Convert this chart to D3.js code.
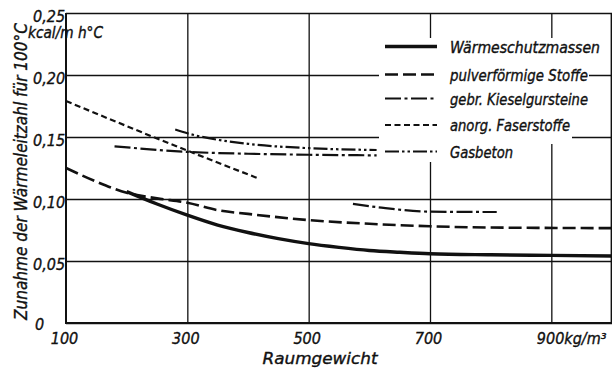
<!DOCTYPE html>
<html><head><meta charset="utf-8">
<script src="https://cdn.jsdelivr.net/npm/d3@7"></script>
<style>
html,body{margin:0;padding:0;background:#fff;}
svg{display:block;}
text{font-family:"DejaVu Sans Condensed","DejaVu Sans","Liberation Sans Narrow",sans-serif;font-stretch:condensed;font-style:oblique;fill:#111;stroke:#111;stroke-width:0.35px;}
</style></head>
<body><svg id="c" width="613" height="369"></svg>
<script>
// ---- data ----
const xTicks = [100, 300, 500, 700, 900];
const xTickLabels = ["100", "300", "500", "700", "900kg/m\u00B3"];
const yTicks = [0, 0.05, 0.10, 0.15, 0.20, 0.25];
const yTickLabels = ["0", "0,05", "0,10", "0,15", "0,20", "0,25"];
const seriesNames = ["Wärmeschutzmassen", "pulverförmige Stoffe", "gebr. Kieselgursteine", "anorg. Faserstoffe", "Gasbeton"];
const waermeschutz = [[200,0.106],[250,0.096],[300,0.087],[350,0.079],[400,0.073],[450,0.068],[500,0.064],[550,0.061],[600,0.0585],[650,0.057],[700,0.0558],[800,0.055],[900,0.0545],[1000,0.054]];
const pulver = [[100,0.125],[150,0.114],[200,0.105],[250,0.1005],[300,0.097],[350,0.091],[400,0.088],[500,0.083],[600,0.080],[700,0.078],[800,0.077],[1000,0.0765]];
const kieselgur = [[180,0.1425],[300,0.138],[400,0.1365],[500,0.1357],[612,0.1352]];
const kieselgur2 = [[573,0.096],[620,0.093],[700,0.0898],[810,0.0895]];
const faser = [[100,0.179],[300,0.139],[415,0.117]];
const gasbeton = [[280,0.156],[300,0.153],[400,0.1445],[500,0.141],[612,0.1395]];

// ---- chart ----
const svg = d3.select("#c");
const x = d3.scaleLinear([100, 1000], [66, 612]);
const y = d3.scaleLinear([0, 0.25], [323, 13]);
const ink = "#111";

// horizontal grid + left axis
const gy = svg.append("g").attr("transform", `translate(${x(100)},0)`)
  .call(d3.axisLeft(y).tickValues(yTicks).tickSize(-(x(1000) - x(100)))
    .tickFormat((d, i) => yTickLabels[i]));
gy.select(".domain").remove();
gy.selectAll(".tick line").attr("stroke", ink).attr("stroke-width", 1.3);
gy.selectAll(".tick text").attr("text-anchor", "start").attr("x", 33 - x(100))
  .attr("dy", null).attr("y", (d) => d === 0 ? 6 : 8)
  .style("font-size", "16px");
gy.selectAll(".tick text").filter(d => d === 0).attr("x", 35 - x(100));

// vertical grid + bottom axis
const gx = svg.append("g").attr("transform", `translate(0,${y(0)})`)
  .call(d3.axisBottom(x).tickValues(xTicks).tickSize(-(y(0) - y(0.25)))
    .tickFormat((d, i) => xTickLabels[i]));
gx.select(".domain").remove();
gx.selectAll(".tick line").attr("stroke", ink).attr("stroke-width", 1.3);
gx.selectAll(".tick").filter(d => d === 100).select("line").remove();
gx.selectAll(".tick text").attr("dy", null).attr("y", 21).style("font-size", "16px")
  .attr("x", -2);
gx.selectAll(".tick text").filter(d => d === 900).attr("text-anchor", "start").attr("x", -15);

// frame: left, bottom, right
svg.append("line").attr("x1", x(100)).attr("x2", x(100)).attr("y1", y(0.25)).attr("y2", y(0) + 1)
  .attr("stroke", ink).attr("stroke-width", 2);
svg.append("line").attr("x1", x(100)).attr("x2", x(1000)).attr("y1", y(0)).attr("y2", y(0))
  .attr("stroke", ink).attr("stroke-width", 2);
svg.append("line").attr("x1", x(1000) - 0.7).attr("x2", x(1000) - 0.7).attr("y1", y(0.25)).attr("y2", y(0))
  .attr("stroke", ink).attr("stroke-width", 1.4);

// legend background
const lg = svg.append("g");
lg.append("rect").attr("x", 379).attr("y", 38).attr("width", 193).attr("height", 106).attr("fill", "#fff");
lg.append("rect").attr("x", 379).attr("y", 143).attr("width", 140).attr("height", 19).attr("fill", "#fff");
lg.append("rect").attr("x", 385).attr("y", 64).attr("width", 204).attr("height", 20).attr("fill", "#fff");

// curves
const line = d3.line().x(d => x(d[0])).y(d => y(d[1])).curve(d3.curveMonotoneX);
const styles = [
  {w: 3.4, dash: null},
  {w: 2.6, dash: "13,5"},
  {w: 2.2, dash: "16,3.5,3,3.5"},
  {w: 2.2, dash: "6,3.5"},
  {w: 2.2, dash: "14,3,2.5,3,2.5,3"}
];
const series = [
  {d: waermeschutz, s: 0}, {d: pulver, s: 1}, {d: kieselgur, s: 2},
  {d: kieselgur2, s: 2}, {d: faser, s: 3}, {d: gasbeton, s: 4}
];
svg.append("g").selectAll("path").data(series).join("path")
  .attr("d", d => line(d.d)).attr("fill", "none").attr("stroke", ink)
  .attr("stroke-width", d => styles[d.s].w)
  .attr("stroke-dasharray", d => styles[d.s].dash);

// legend items
const rowY = [46.5, 74.5, 98.5, 125, 151.5];
const textLen = [150, 138, 138, 120, 63];
seriesNames.forEach((n, i) => {
  lg.append("line").attr("x1", 385).attr("x2", 437).attr("y1", rowY[i]).attr("y2", rowY[i])
    .attr("stroke", ink).attr("stroke-width", styles[i].w)
    .attr("stroke-dasharray", styles[i].dash);
  lg.append("text").attr("x", 450).attr("y", rowY[i] + 6).text(n)
    .attr("textLength", textLen[i]).attr("lengthAdjust", "spacingAndGlyphs")
    .style("font-size", "15px");
});

// axis titles
svg.append("text").attr("transform", "translate(27,171.5) rotate(-90)")
  .attr("text-anchor", "middle").attr("textLength", 297).attr("lengthAdjust", "spacingAndGlyphs")
  .style("font-size", "17px").text("Zunahme der Wärmeleitzahl für 100°C");
svg.append("text").attr("x", 28).attr("y", 38).attr("textLength", 75).attr("lengthAdjust", "spacingAndGlyphs")
  .style("font-size", "15px").text("kcal/m h°C");
svg.append("text").attr("x", 320).attr("y", 364).attr("text-anchor", "middle")
  .attr("textLength", 115).attr("lengthAdjust", "spacingAndGlyphs")
  .style("font-size", "16px").text("Raumgewicht");
</script></body></html>
